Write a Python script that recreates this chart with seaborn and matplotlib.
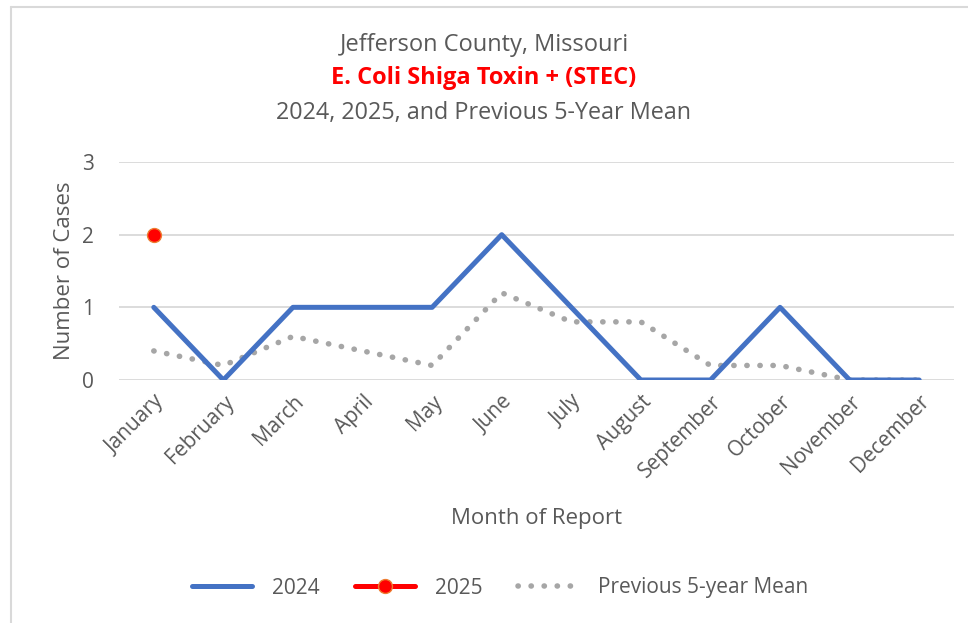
import matplotlib
matplotlib.use("Agg")
import matplotlib.pyplot as plt
import seaborn as sns
import pandas as pd
import numpy as np
from matplotlib.lines import Line2D

months = ["January", "February", "March", "April", "May", "June", "July",
          "August", "September", "October", "November", "December"]
cases_2024 = [1, 0, 1, 1, 1, 2, 1, 0, 0, 1, 0, 0]
cases_2025 = [2] + [np.nan] * 11
mean_5yr = [0.4, 0.2, 0.6, 0.4, 0.2, 1.2, 0.8, 0.8, 0.2, 0.2, 0, 0]

sns.set_theme(style="white")
plt.rcParams['font.family'] = ['Open Sans', 'DejaVu Sans']

df = pd.DataFrame({"Month": months, "2024": cases_2024, "2025": cases_2025,
                   "Mean": mean_5yr})
df["x"] = np.arange(len(months))

fig = plt.figure(figsize=(9.68, 6.23), dpi=100)
ax = fig.add_axes([119 / 968, 1 - 380 / 623, (954 - 119) / 968, (380 - 162) / 623])

grey_txt = "#595959"
dots = (0, (0.05, 2.3))
sns.lineplot(data=df, x="x", y="Mean", ax=ax, color="#a6a6a6", linewidth=4,
             linestyle=dots, dash_capstyle="round", zorder=2)
sns.lineplot(data=df, x="x", y="2024", ax=ax, color="#4472c4", linewidth=3.6,
             zorder=3)
ax.plot(df["x"], df["2025"], color="red", marker="o", markersize=10,
        markeredgecolor="#ed7d31", markeredgewidth=1, linewidth=3.6, zorder=4)

ax.set_xlim(-0.5, len(months) - 0.5)
ax.set_ylim(0, 3)
ax.set_yticks([0, 1, 2, 3])
ax.set_xticks(df["x"])
ax.set_xticklabels(months, rotation=45, ha="right", rotation_mode="anchor")
ax.tick_params(axis="both", colors=grey_txt, labelsize=15, length=0)
ax.tick_params(axis="y", pad=18)
ax.tick_params(axis="x", pad=8)
ax.yaxis.grid(True, color="#d9d9d9", linewidth=1.3)
for s in ax.spines.values():
    s.set_visible(False)

ax.set_xlabel("Month of Report", fontsize=16, color=grey_txt, labelpad=19)
ax.set_ylabel("Number of Cases", fontsize=16, color=grey_txt, labelpad=5)

fig.text(0.5, 1 - 45 / 623, "Jefferson County, Missouri", ha="center", va="center",
         fontsize=17, color=grey_txt)
fig.text(0.5, 1 - 78 / 623, "E. Coli Shiga Toxin + (STEC)", ha="center", va="center",
         fontsize=17, color="red", fontweight="bold")
fig.text(0.5, 1 - 113 / 623, "2024, 2025, and Previous 5-Year Mean", ha="center",
         va="center", fontsize=16.8, color=grey_txt)

handles = [
    Line2D([], [], color="#4472c4", linewidth=3.6),
    Line2D([], [], color="red", linewidth=3.6, marker="o", markersize=10,
           markeredgecolor="#ed7d31"),
    Line2D([], [], color="#a6a6a6", linewidth=4, linestyle=dots,
           dash_capstyle="round"),
]
fig.legend(handles, ["2024", "2025", "Previous 5-year Mean"], loc="center",
           bbox_to_anchor=(500 / 968, 1 - 588 / 623), ncol=3, frameon=False,
           fontsize=15, labelcolor=grey_txt, handlelength=2.9, columnspacing=1.7,
           handletextpad=0.95)

# chart area border (left and top edges visible in the crop)
fig.add_artist(Line2D([11 / 968, 11 / 968], [0, 1 - 7 / 623], color="#d9d9d9",
                      linewidth=1.5, transform=fig.transFigure))
fig.add_artist(Line2D([11 / 968, 1], [1 - 7 / 623, 1 - 7 / 623], color="#d9d9d9",
                      linewidth=1.5, transform=fig.transFigure))

fig.savefig("out.png", dpi=100)
